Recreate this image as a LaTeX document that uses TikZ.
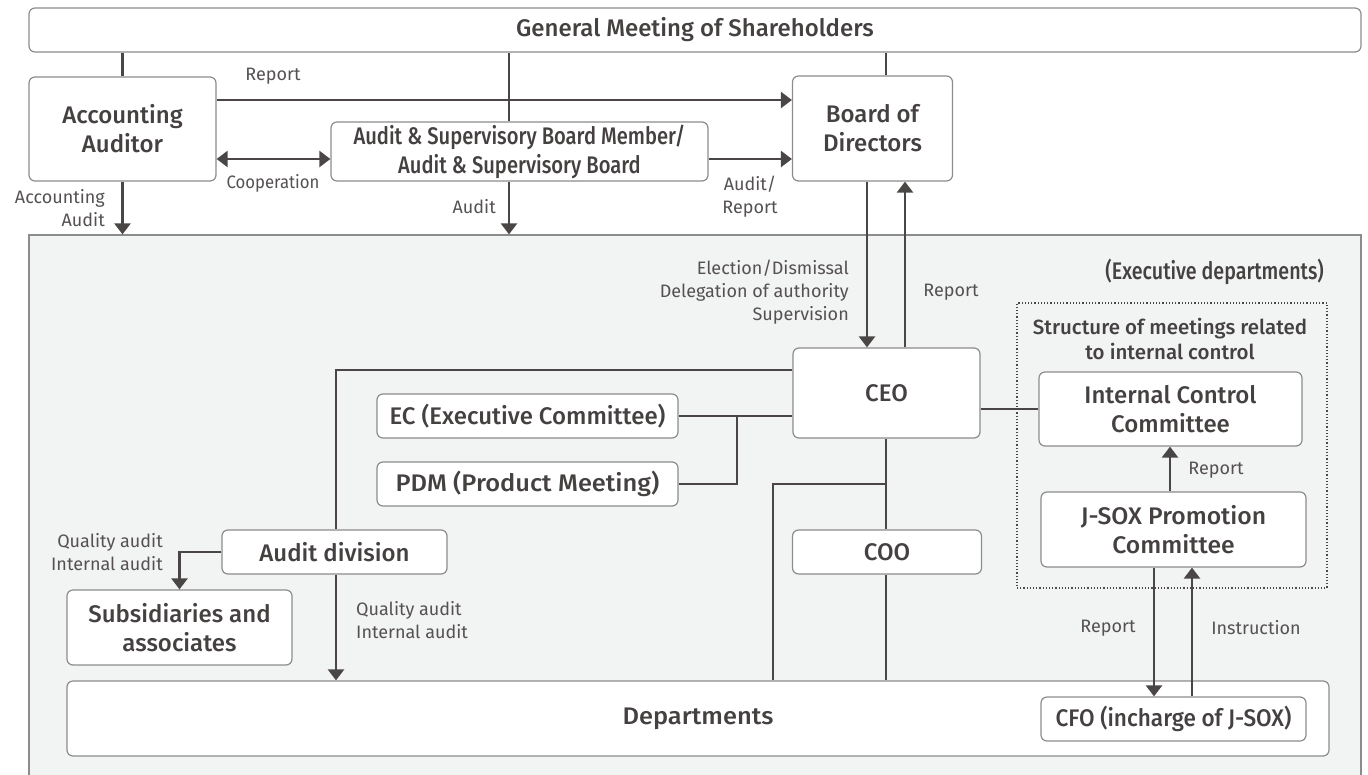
\documentclass[tikz,border=0pt]{standalone}
\usepackage{fontspec}
\setmainfont{Fira Sans}[BoldFont={Fira Sans Medium}]
\usetikzlibrary{arrows.meta}
\definecolor{ln}{HTML}{4A4646}
\definecolor{bd}{HTML}{8C8C8C}
\definecolor{tx}{HTML}{454141}
\definecolor{lb}{HTML}{555151}
\definecolor{bg}{HTML}{F2F3F3}
\begin{document}
\begin{tikzpicture}[x=1pt,y=-1pt,
 box/.style={draw=bd, line width=1.2pt, fill=white, rounded corners=6pt, align=center,
   font=\fontsize{24}{29}\selectfont\bfseries, text=tx, inner sep=0pt},
 hs/.style={font=\fontsize{24}{29}\selectfont\bfseries\addfontfeature{FakeStretch=#1}},
 lbl/.style={font=\fontsize{18}{23}\selectfont, text=lb, inner sep=0pt, align=center},
 con/.style={draw=ln, line width=2.4pt},
 arr/.style={con, -{Triangle[width=16pt,length=11pt]}},
 darr/.style={con, {Triangle[width=16pt,length=11pt]}-{Triangle[width=16pt,length=11pt]}}]
\useasboundingbox (0,0) rectangle (1368,774);
% executive region
\node[draw=bd, fill=bg, line width=1.2pt, minimum width=1332pt, minimum height=560pt, inner sep=0pt] (exec) at (695,515) {};
\node[draw=ln, dotted, line width=1.2pt, minimum width=310pt, minimum height=285pt, inner sep=0pt] (meet) at (1172,445.5) {};
% boxes
\node[box, minimum width=1332pt, minimum height=44pt] (gm) at (695,30) {General Meeting of Shareholders};
\node[box, minimum width=187pt, minimum height=104pt] (aa) at (122.5,129) {Accounting\\Auditor};
\node[box, hs=0.84, minimum width=377pt, minimum height=59pt] (asb) at (519.5,151.5) {Audit \& Supervisory Board Member/\\Audit \& Supervisory Board};
\node[box, minimum width=160pt, minimum height=105pt] (bod) at (872.5,128.5) {Board of\\Directors};
\node[box, minimum width=187pt, minimum height=90pt] (ceo) at (886.5,393) {CEO};
\node[box, minimum width=301pt, minimum height=44pt] (ec) at (527.5,416) {EC (Executive Committee)};
\node[box, hs=1.06, minimum width=301pt, minimum height=44pt] (pdm) at (527.5,484) {PDM (Product Meeting)};
\node[box, minimum width=225pt, minimum height=44pt] (ad) at (334.5,552) {Audit division};
\node[box, minimum width=225pt, minimum height=75pt] (sub) at (179.5,627.5) {Subsidiaries and\\associates};
\node[box, minimum width=189pt, minimum height=44pt] (coo) at (887,552) {COO};
\node[box, minimum width=263pt, minimum height=74pt] (ic) at (1170.5,409) {Internal Control\\Committee};
\node[box, hs=1.03, minimum width=265pt, minimum height=75pt] (jsox) at (1173.5,529.5) {J-SOX Promotion\\Committee};
\node[box, hs=1.06, minimum width=1262pt, minimum height=75pt] (dep) at (698,718.5) {Departments};
\node[box, hs=0.94, minimum width=265pt, minimum height=44pt] (cfo) at (1173.5,719) {CFO (incharge of J-SOX)};
% connectors top
\draw[con] (aa.north) -- (aa.north |- gm.south);
\draw[con] (asb.north -| 509,0) -- (gm.south -| 509,0);
\draw[con] (bod.north -| 886,0) -- (gm.south -| 886,0);
\draw[arr] (aa.east |- 0,100) -- (bod.west |- 0,100);
\draw[darr] (aa.east |- 0,159) -- (asb.west |- 0,159);
\draw[arr] (asb.east |- 0,159) -- (bod.west |- 0,159);
\draw[arr] (aa.south) -- (aa.south |- exec.north);
\draw[arr] (asb.south -| 509,0) -- (exec.north -| 509,0);
\draw[arr] (bod.south -| 867,0) -- (ceo.north -| 867,0);
\draw[arr] (ceo.north -| 905,0) -- (bod.south -| 905,0);
% CEO area
\draw[con] (ceo.west |- 0,370) -| (ad.north -| 336,0);
\draw[arr] (ad.south -| 336,0) -- (dep.north -| 336,0);
\draw[arr] (ad.west) -| (sub.north);
\draw[con] (ec.east) -- (ceo.west |- ec.east);
\draw[con] (pdm.east) -| (737,416);
\draw[con] (ceo.south -| 886,0) -- (coo.north -| 886,0);
\draw[con] (886,484) -| (dep.north -| 773,0);
\draw[con] (coo.south -| 886,0) -- (dep.north -| 886,0);
\draw[con] (ceo.east |- ic.west) -- (ic.west);
\draw[arr] (jsox.north -| 1170,0) -- (ic.south -| 1170,0);
\draw[arr] (jsox.south -| 1154,0) -- (cfo.north -| 1154,0);
\draw[arr] (cfo.north -| 1192,0) -- (jsox.south -| 1192,0);
% labels
\node[lbl] (l1) at (273,76) {Report};
\node[lbl, font=\fontsize{18}{23}\selectfont\addfontfeature{FakeStretch=0.93}] (l2) at (273,183) {Cooperation};
\node[lbl, anchor=east, align=right] (l3) at (105,208) {Accounting\\Audit};
\node[lbl, anchor=east] (l4) at (496,207) {Audit};
\node[lbl] (l5) at (750,197) {Audit/\\Report};
\node[lbl, anchor=east, align=right] (l6) at (849,292) {Election/Dismissal\\Delegation of authority\\Supervision};
\node[lbl] (l7) at (951,292) {Report};
\node[anchor=east, inner sep=0pt, text=tx, font=\fontsize{24}{29}\selectfont\bfseries\addfontfeature{FakeStretch=0.82}] (l8) at (1324,272) {(Executive departments)};
\node[inner sep=0pt, text=tx, align=center, font=\fontsize{20.5}{25}\selectfont\bfseries] (l9) at (1170,338.5) {Structure of meetings related\\to internal control};
\node[lbl] (l10) at (1216,470) {Report};
\node[lbl, anchor=east, align=right] (l11) at (163,552.5) {Quality audit\\Internal audit};
\node[lbl, anchor=west, align=left] (l12) at (356,620.5) {Quality audit\\Internal audit};
\node[lbl] (l13) at (1108,628) {Report};
\node[lbl] (l14) at (1256,628) {Instruction};
\end{tikzpicture}
\end{document}
